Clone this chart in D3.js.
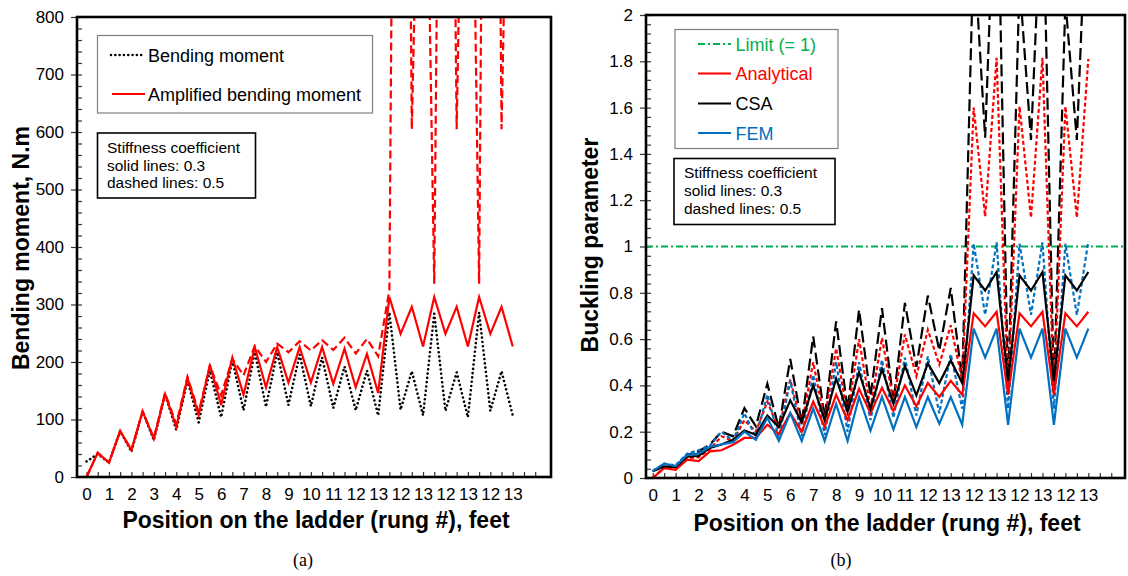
<!DOCTYPE html>
<html>
<head>
<meta charset="utf-8">
<script src="https://cdn.jsdelivr.net/npm/d3@7"></script>
<style>
  body { margin: 0; background: #fff; }
  svg { display: block; font-family: "Liberation Sans", Arial, sans-serif; }
</style>
</head>
<body>
<div class="container"></div>
<script>
// rung positions 0, 0.5, 1 ... 13, then the climber moves between rung 12 and 13
var tickLabels = ['0', '1', '2', '3', '4', '5', '6', '7', '8', '9', '10', '11', '12', '13',
    '12', '13', '12', '13', '12', '13'];

// (a) bending moment, N.m
var bendingMoment = [27, 40, 25, 80, 44, 114, 64, 144, 82, 168, 95, 185, 104, 203, 116, 217, 122, 217, 125, 213,
    123, 208, 120, 192, 116, 185, 107, 286, 117, 184, 107, 284, 115, 182, 104, 286, 115, 184, 107];
var amplified03 = [0, 42, 25, 80, 47, 114, 66, 144, 87, 172, 108, 195, 125, 208, 143, 226, 156, 226, 164, 226,
    164, 226, 162, 223, 156, 214, 146, 313, 249, 296, 227, 313, 249, 296, 227, 313, 249, 296, 227];
var amplified05 = [0, 42, 25, 80, 47, 114, 68, 146, 92, 174, 113, 194, 142, 205, 177, 228, 200, 232, 217, 236,
    220, 238, 221, 242, 215, 240, 210, 325, 3000, 605, 1500, 336, 2500, 605, 1700, 336, 3000, 605, 1600];

// (b) buckling parameter
var analytical03 = [0, 0.043, 0.035, 0.079, 0.073, 0.115, 0.12, 0.144, 0.173, 0.173, 0.23, 0.19, 0.28, 0.2, 0.33,
    0.22, 0.36, 0.25, 0.385, 0.28, 0.39, 0.29, 0.40, 0.31, 0.41, 0.35, 0.42, 0.36, 0.712, 0.655, 0.718, 0.36,
    0.712, 0.655, 0.718, 0.36, 0.712, 0.655, 0.718];
var analytical05 = [0, 0.045, 0.04, 0.085, 0.09, 0.125, 0.18, 0.16, 0.25, 0.2, 0.33, 0.21, 0.425, 0.23, 0.5,
    0.25, 0.56, 0.27, 0.6, 0.3, 0.605, 0.33, 0.62, 0.44, 0.64, 0.49, 0.66, 0.42, 1.60, 1.13, 1.815, 0.36,
    1.605, 1.125, 1.815, 0.36, 1.605, 1.125, 1.81];
var csa03 = [0.029, 0.05, 0.047, 0.092, 0.095, 0.13, 0.145, 0.165, 0.205, 0.187, 0.27, 0.22, 0.336, 0.24, 0.40,
    0.25, 0.43, 0.286, 0.457, 0.30, 0.47, 0.32, 0.484, 0.357, 0.495, 0.41, 0.508, 0.41, 0.875, 0.81, 0.89, 0.42,
    0.875, 0.81, 0.89, 0.42, 0.875, 0.81, 0.89];
var csa05 = [0.03, 0.055, 0.05, 0.1, 0.115, 0.145, 0.2, 0.18, 0.302, 0.223, 0.407, 0.216, 0.514, 0.238, 0.612,
    0.26, 0.677, 0.295, 0.727, 0.353, 0.734, 0.33, 0.756, 0.48, 0.788, 0.55, 0.821, 0.42, 2.3, 1.47, 2.8, 0.38,
    2.14, 1.46, 2.6, 0.38, 2.06, 1.46, 2.68];
var fem03 = [0.03, 0.062, 0.052, 0.1, 0.105, 0.135, 0.145, 0.155, 0.2, 0.165, 0.26, 0.16, 0.28, 0.16, 0.30, 0.16,
    0.32, 0.16, 0.35, 0.205, 0.35, 0.21, 0.35, 0.22, 0.35, 0.235, 0.35, 0.23, 0.645, 0.52, 0.645, 0.23, 0.645,
    0.52, 0.645, 0.23, 0.645, 0.52, 0.645];
var fem05 = [0.03, 0.062, 0.055, 0.105, 0.12, 0.14, 0.2, 0.16, 0.28, 0.175, 0.36, 0.175, 0.42, 0.18, 0.445,
    0.185, 0.5, 0.2, 0.5, 0.25, 0.51, 0.26, 0.52, 0.27, 0.525, 0.28, 0.535, 0.3, 1.012, 0.705, 1.018, 0.30,
    1.012, 0.705, 1.018, 0.30, 1.012, 0.705, 1.022];
var limitValue = 1;

var RED = '#ff0000';
var BLUE = '#0070c0';
var GREEN = '#00b050';

var svg = d3.select('.container')
    .append('svg')
    .attr('width', 1128)
    .attr('height', 576);

// one framed panel with inside ticks on x, crossing ticks on y
var drawPanel = function (cfg) {
    var x = d3.scaleLinear().domain(cfg.xDomain).range([cfg.left, cfg.right]);
    var y = d3.scaleLinear().domain(cfg.yDomain).range([cfg.bottom, cfg.top]);
    var g = svg.append('g');

    g.append('clipPath')
        .attr('id', cfg.id + '-clip')
        .append('rect')
        .attr('x', cfg.left)
        .attr('y', cfg.top)
        .attr('width', cfg.right - cfg.left)
        .attr('height', cfg.bottom - cfg.top);

    var xAxis = d3.axisBottom(x)
        .tickValues(d3.range(0, 41))
        .tickSize(-5)
        .tickPadding(11)
        .tickFormat(function (i) { return (i % 2 === 0 && i / 2 < tickLabels.length) ? tickLabels[i / 2] : ''; });
    g.append('g')
        .attr('transform', 'translate(0,' + cfg.bottom + ')')
        .call(xAxis)
        .call(function (a) { a.select('.domain').remove(); });

    g.append('g')
        .attr('transform', 'translate(' + cfg.left + ',0)')
        .call(d3.axisLeft(y).tickValues(cfg.majorTicks).tickSize(6).tickPadding(7).tickFormat(cfg.format))
        .call(function (a) { a.select('.domain').remove(); });

    g.append('g')
        .attr('transform', 'translate(' + cfg.left + ',0)')
        .call(d3.axisLeft(y).tickValues(cfg.minorTicks).tickSize(-5).tickFormat(''))
        .call(function (a) { a.select('.domain').remove(); });

    g.selectAll('.tick line').style('stroke', '#333').style('stroke-width', '1.2');
    g.selectAll('.tick text')
        .style('font-size', '17px')
        .style('font-family', '"Liberation Sans", Arial, sans-serif')
        .style('fill', '#000');

    var lines = g.append('g').attr('clip-path', 'url(#' + cfg.id + '-clip)');

    g.append('rect')
        .attr('x', cfg.left)
        .attr('y', cfg.top)
        .attr('width', cfg.right - cfg.left)
        .attr('height', cfg.bottom - cfg.top)
        .style('fill', 'none')
        .style('stroke', '#000')
        .style('stroke-width', '2.6');

    return { x: x, y: y, g: g, lines: lines };
};

var addSeries = function (p, values, color, dash, width, cap) {
    var line = d3.line()
        .x(function (d, i) { return p.x(i); })
        .y(function (d) { return p.y(d); });
    p.lines.append('path')
        .datum(values)
        .attr('d', line)
        .style('fill', 'none')
        .style('stroke', color)
        .style('stroke-width', width || 2)
        .style('stroke-dasharray', dash || null)
        .style('stroke-linecap', cap || 'butt')
        .style('stroke-linejoin', 'miter');
};

var addText = function (txt, x, y, size, opts) {
    opts = opts || {};
    var t = svg.append('text')
        .attr('x', x)
        .attr('y', y)
        .style('font-size', size + 'px')
        .style('fill', opts.color || '#000')
        .style('font-weight', opts.bold ? 'bold' : 'normal')
        .style('text-anchor', opts.anchor || 'start')
        .text(txt);
    if (opts.serif) t.style('font-family', '"Liberation Serif", "Times New Roman", serif');
    if (opts.rotate) t.attr('transform', 'rotate(-90,' + x + ',' + y + ')');
    return t;
};

var addBox = function (x, y, w, h, stroke, width) {
    svg.append('rect')
        .attr('x', x).attr('y', y).attr('width', w).attr('height', h)
        .style('fill', '#fff')
        .style('stroke', stroke)
        .style('stroke-width', width);
};

var addSample = function (x1, x2, y, color, dash, width, cap) {
    svg.append('line')
        .attr('x1', x1).attr('x2', x2).attr('y1', y).attr('y2', y)
        .style('stroke', color)
        .style('stroke-width', width || 2)
        .style('stroke-dasharray', dash || null)
        .style('stroke-linecap', cap || 'butt');
};

// ---------- (a) ----------
var pa = drawPanel({
    id: 'a', left: 77, right: 551, top: 17, bottom: 477,
    xDomain: [-0.85, 41.41], yDomain: [0, 800],
    majorTicks: d3.range(0, 801, 100), minorTicks: d3.range(0, 801, 20),
    format: d3.format('d')
});
addSeries(pa, bendingMoment, '#000', '0.01,4.3', 2.6, 'round');
addSeries(pa, amplified05, RED, '8,4', 2.2);
addSeries(pa, amplified03, RED, null, 2.2);

addBox(97.5, 35.5, 275, 77.5, '#7f7f7f', 1.2);
addSample(111, 143, 55, '#000', '0.01,4.3', 2.6, 'round');
addText('Bending moment', 148, 61.5, 18);
addSample(112, 145, 94, RED, null, 2.2);
addText('Amplified bending moment', 148, 100.5, 18);

addBox(97.5, 133, 158, 65, '#000', 1.6);
addText('Stiffness coefficient', 107, 152.5, 15.5);
addText('solid lines: 0.3', 107, 170.5, 15.5);
addText('dashed lines: 0.5', 107, 188, 15.5);

addText('Bending moment, N.m', 29, 248, 23, { bold: true, anchor: 'middle', rotate: true });
addText('Position on the ladder (rung #), feet', 316, 527.5, 23, { bold: true, anchor: 'middle' });
addText('(a)', 303, 566, 18, { anchor: 'middle', serif: true });

// ---------- (b) ----------
var pb = drawPanel({
    id: 'b', left: 646, right: 1125, top: 15, bottom: 478,
    xDomain: [-0.585, 41.2], yDomain: [0, 2],
    majorTicks: d3.range(0, 2.0001, 0.2), minorTicks: d3.range(0, 2.0001, 0.04),
    format: d3.format('~g')
});
pb.lines.append('line')
    .attr('x1', pb.x(-0.585)).attr('x2', pb.x(41.2))
    .attr('y1', pb.y(limitValue)).attr('y2', pb.y(limitValue))
    .style('stroke', GREEN).style('stroke-width', 1.8).style('stroke-dasharray', '7,3,2,3');
addSeries(pb, csa05, '#000', '12,5', 2.2);
addSeries(pb, analytical05, RED, '4,2.5', 2.2);
addSeries(pb, fem05, BLUE, '4,2.5', 2.2);
addSeries(pb, analytical03, RED, null, 2.2);
addSeries(pb, csa03, '#000', null, 2.2);
addSeries(pb, fem03, BLUE, null, 2.2);

addBox(675, 29.5, 163, 119, '#7f7f7f', 1.2);
addSample(698, 731, 44, GREEN, '7,3,2,3', 1.8);
addText('Limit (= 1)', 735.5, 50.5, 18, { color: GREEN });
addSample(698, 731, 73.5, RED, null, 2.2);
addText('Analytical', 735.5, 80, 18, { color: RED });
addSample(698, 731, 103.5, '#000', null, 2.2);
addText('CSA', 735.5, 110, 18);
addSample(698, 731, 133, BLUE, null, 2.2);
addText('FEM', 735.5, 139.5, 18, { color: BLUE });

addBox(674, 158.5, 161, 66, '#000', 1.6);
addText('Stiffness coefficient', 684, 177.5, 15.5);
addText('solid lines: 0.3', 684, 195.5, 15.5);
addText('dashed lines: 0.5', 684, 213.5, 15.5);

addText('Buckling parameter', 597.5, 245, 23, { bold: true, anchor: 'middle', rotate: true });
addText('Position on the ladder (rung #), feet', 887, 530.5, 23, { bold: true, anchor: 'middle' });
addText('(b)', 841, 566, 18, { anchor: 'middle', serif: true });
</script>
</body>
</html>
